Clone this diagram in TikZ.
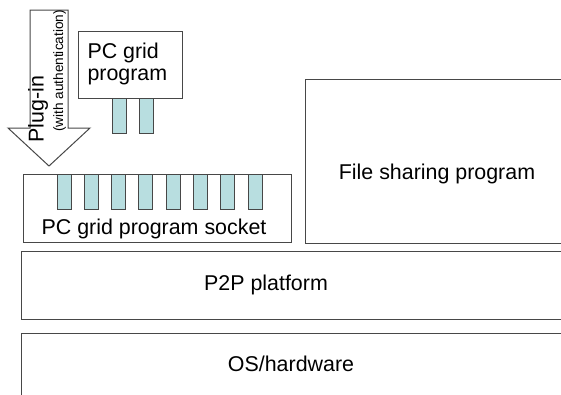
\documentclass[tikz,border=0pt]{standalone}
\usepackage{fontspec}
\setmainfont{Liberation Sans}
\begin{document}
\begin{tikzpicture}[x=1pt,y=-1pt,
  line width=1pt,
  edge/.style={draw=black!72},
  box/.style={edge, fill=white, rectangle, inner sep=0pt},
  pin/.style={edge, fill=pinfill},
  big/.style={font=\fontsize{21.4}{21.5}\selectfont},
  small/.style={font=\fontsize{13.6}{14}\selectfont}]
\definecolor{pinfill}{RGB}{184,222,224}
\useasboundingbox (0,0) rectangle (561,394);
\clip (0,0) rectangle (561,394);

% layered platform boxes
\node[box, anchor=north west, minimum width=265, minimum height=164] (files) at (305,79) {};
\node[big, anchor=base] (filestext) at (437,179) {File sharing program};

\node[box, anchor=north west, minimum width=268, minimum height=68] (socket) at (23,174) {};
\foreach \i in {0,...,7}
  \draw[pin] ({57+27.3*\i},174) rectangle ({71+27.3*\i},209);
\node[big, anchor=base] (sockettext) at (154,234) {PC grid program socket};

\node[box, anchor=north west, minimum width=560, minimum height=68] (p2p) at (21,251) {};
\node[big, anchor=base] (p2ptext) at (266,290) {P2P platform};

\node[box, anchor=north west, minimum width=560, minimum height=80] (os) at (21,333) {};
\node[big, anchor=base] (ostext) at (291,371) {OS/hardware};

% plug-in program with its two pins
\node[box, anchor=north west, minimum width=104, minimum height=67] (prog) at (78,31) {};
\node[big, align=left, anchor=west, inner sep=0pt] (progtext) at (87,64) {PC grid\\program};
\draw[pin] (112,98) rectangle (126,133);
\draw[pin] (139,98) rectangle (153,133);

% plug-in arrow
\draw[edge, fill=white] (30,10) -- (68,10) -- (68,128) -- (90,128) -- (49,166)
  -- (8,128) -- (30,128) -- cycle;
\node[big, rotate=90, inner sep=0pt] (plug) at (38,109) {Plug-in};
\node[small, rotate=90, inner sep=0pt] (auth) at (59.5,71) {(with authentication)};
\end{tikzpicture}
\end{document}
